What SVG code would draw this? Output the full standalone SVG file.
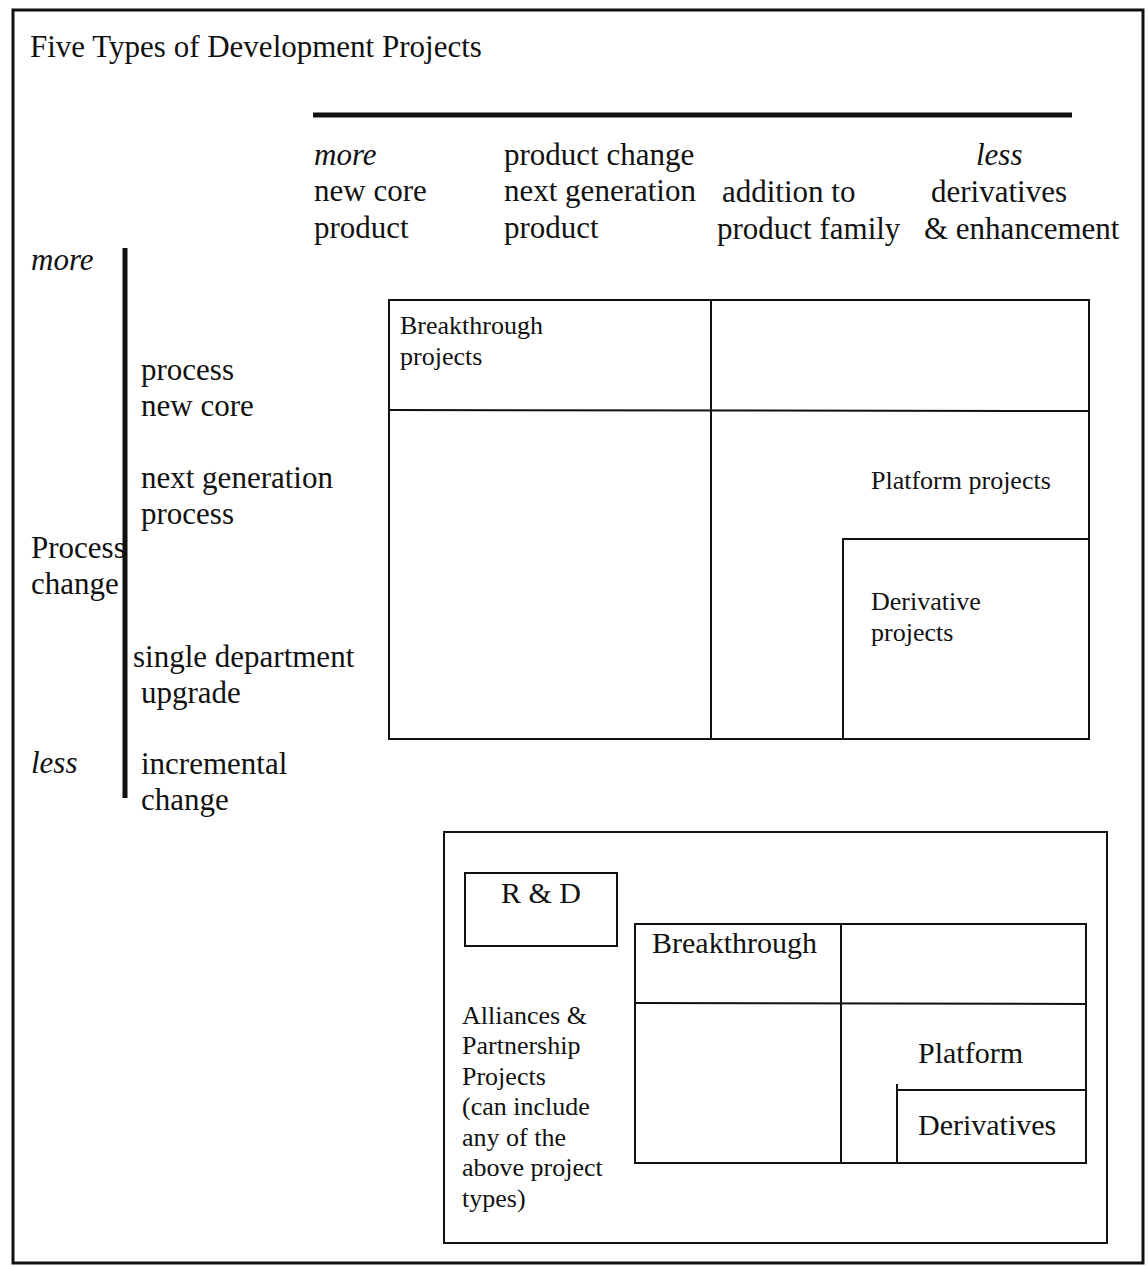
<svg xmlns="http://www.w3.org/2000/svg" width="1148" height="1266" viewBox="0 0 1148 1266">
<style>
text{font-family:"Liberation Serif","Times New Roman",serif;fill:#111}
.h{font-size:31px}
.i{font-style:italic}
.g{font-size:26px}
.b{font-size:30px}
.box{fill:none;stroke:#111;stroke-width:2}
.axis{stroke:#111;stroke-width:5;fill:none}
</style>
<rect width="1148" height="1266" fill="#fff"/>
<g id="frame"><rect x="13" y="10" width="1130" height="1253" fill="none" stroke="#111" stroke-width="3"/></g>
<g id="title"><text x="30" y="57" style="font-size:31px">Five Types of Development Projects</text></g>
<g id="connectors">
<line class="axis" x1="313" y1="115" x2="1072" y2="115"/>
<line class="axis" x1="125" y1="248" x2="125" y2="798"/>
</g>
<g id="product-axis-labels">
<text x="314" y="165" class="h i">more</text>
<text x="314" y="201" class="h">new core</text>
<text x="314" y="238" class="h">product</text>
<text x="504" y="165" class="h">product change</text>
<text x="504" y="201" class="h">next generation</text>
<text x="504" y="238" class="h">product</text>
<text x="722" y="202" class="h">addition to</text>
<text x="717" y="239" class="h">product family</text>
<text x="976" y="165" class="h i">less</text>
<text x="931" y="202" class="h">derivatives</text>
<text x="924" y="239" class="h">&amp; enhancement</text>
</g>
<g id="process-axis-labels">
<text x="31" y="270" class="h i">more</text>
<text x="141" y="380" class="h">process</text>
<text x="141" y="416" class="h">new core</text>
<text x="141" y="488" class="h">next generation</text>
<text x="141" y="524" class="h">process</text>
<text x="31" y="558" class="h">Process</text>
<text x="31" y="594" class="h">change</text>
<text x="133" y="667" class="h">single department</text>
<text x="141" y="703" class="h">upgrade</text>
<text x="31" y="773" class="h i">less</text>
<text x="141" y="774" class="h">incremental</text>
<text x="141" y="810" class="h">change</text>
</g>
<g id="main-grid">
<rect class="box" x="389" y="300" width="700" height="439"/>
<line class="box" x1="389" y1="410" x2="1089" y2="411"/>
<line class="box" x1="711" y1="300" x2="711" y2="739"/>
</g>
<g id="breakthrough-projects"><text x="400" y="334" class="g">Breakthrough</text><text x="400" y="365" class="g">projects</text></g>
<g id="platform-projects"><text x="871" y="489" class="g">Platform projects</text></g>
<g id="derivative-projects">
<rect class="box" x="843" y="539" width="246" height="200"/>
<text x="871" y="610" class="g">Derivative</text><text x="871" y="641" class="g">projects</text>
</g>
<g id="alliances-box">
<rect class="box" x="444" y="832" width="663" height="411"/>
<text x="462" y="1024" class="g">Alliances &amp;</text>
<text x="462" y="1054" class="g">Partnership</text>
<text x="462" y="1085" class="g">Projects</text>
<text x="462" y="1115" class="g">(can include</text>
<text x="462" y="1146" class="g">any of the</text>
<text x="462" y="1176" class="g">above project</text>
<text x="462" y="1207" class="g">types)</text>
</g>
<g id="rnd"><rect class="box" x="465" y="873" width="152" height="73"/><text x="541" y="903" class="b" text-anchor="middle">R &amp; D</text></g>
<g id="small-grid">
<rect class="box" x="635" y="924" width="451" height="239"/>
<line class="box" x1="635" y1="1003" x2="1086" y2="1004"/>
<line class="box" x1="841" y1="924" x2="841" y2="1163"/>
</g>
<g id="breakthrough"><text x="652" y="953" class="b">Breakthrough</text></g>
<g id="platform"><text x="918" y="1063" class="b">Platform</text></g>
<g id="derivatives">
<rect class="box" x="897" y="1090" width="189" height="73"/>
<line class="box" x1="897" y1="1084" x2="897" y2="1090"/>
<text x="918" y="1135" class="b">Derivatives</text>
</g>
</svg>
